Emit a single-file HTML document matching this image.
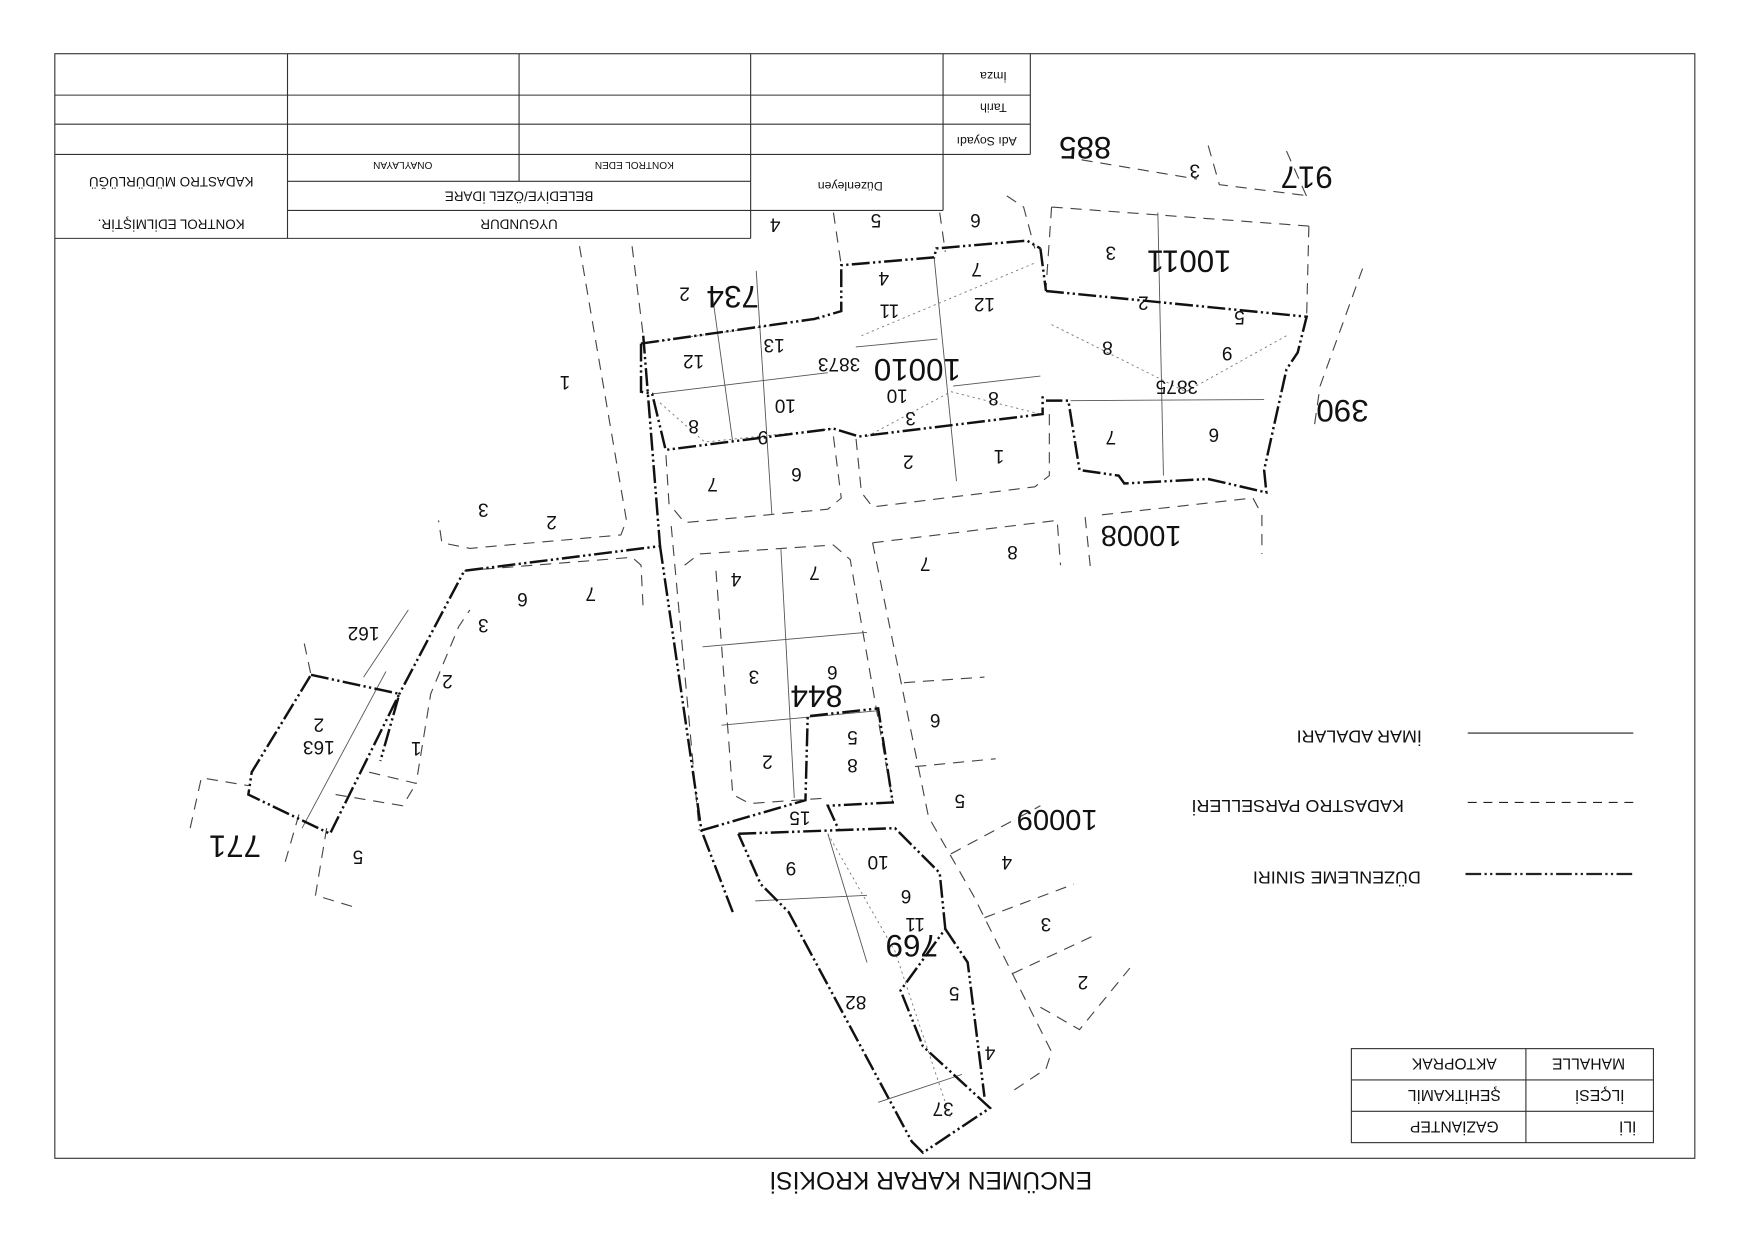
<!DOCTYPE html>
<html><head><meta charset="utf-8"><style>
html,body{margin:0;padding:0;background:#fff;}
svg{display:block;}
text{font-family:"Liberation Sans",sans-serif;fill:#111;dominant-baseline:central;}
</style></head><body>
<svg width="1753" height="1240" viewBox="0 0 1567 1108" preserveAspectRatio="none" xmlns="http://www.w3.org/2000/svg">
<rect width="1567" height="1108" fill="#fff"/>
<g fill="none" stroke="#333" stroke-width="1">
<rect x="49" y="48" width="1466" height="987"/>
<line x1="49" y1="85" x2="921" y2="85"/>
<line x1="49" y1="111" x2="921" y2="111"/>
<line x1="49" y1="138" x2="921" y2="138"/>
<line x1="921" y1="48" x2="921" y2="138"/>
<line x1="843" y1="48" x2="843" y2="188"/>
<line x1="671" y1="48" x2="671" y2="213"/>
<line x1="464" y1="48" x2="464" y2="162"/>
<line x1="257" y1="48" x2="257" y2="213"/>
<line x1="257" y1="162" x2="671" y2="162"/>
<line x1="257" y1="188" x2="843" y2="188"/>
<line x1="49" y1="213" x2="671" y2="213"/>
<rect x="1208" y="937" width="270" height="84"/>
<line x1="1208" y1="965" x2="1478" y2="965"/>
<line x1="1208" y1="993" x2="1478" y2="993"/>
<line x1="1364" y1="937" x2="1364" y2="1021"/>
</g>
<g stroke="#222">
<line x1="1312" y1="655" x2="1460" y2="655" stroke-width="1"/>
<line x1="1312" y1="717" x2="1460" y2="717" stroke-dasharray="8,6"/>
<line x1="1310" y1="781" x2="1460" y2="781" stroke-width="2" stroke-dasharray="14,3,2,3,2,3"/>
</g>
<g fill="none" stroke="#444" stroke-width="1" stroke-dasharray="10,7">
<path d="M518 220 L560 465 L555 478 L420 490 L395 485 L392 465"/>
<path d="M565 220 L575 300"/>
<path d="M745 190 L752 237"/>
<path d="M840 190 L845 225"/>
<path d="M900 175 L915 185 L925 222"/>
<path d="M940 185 L1170 202"/>
<path d="M1170 202 L1168 283"/>
<path d="M940 185 L935 258"/>
<path d="M938 370 L938 425 L925 435 L780 453 L770 440 L765 390"/>
<path d="M745 390 L752 445 L740 455 L612 467 L598 450 L595 402"/>
<path d="M600 470 L625 742"/>
<path d="M612 505 L625 495 L745 487 L760 500 L798 717"/>
<path d="M780 485 L945 465 L948 505"/>
<path d="M970 462 L975 510"/>
<path d="M985 460 L1120 445 L1128 460 L1128 495"/>
<path d="M780 485 L830 730 L870 800 L940 940 L935 955 L905 975"/>
<path d="M808 610 L880 605"/>
<path d="M818 685 L890 678"/>
<path d="M850 763 L930 720"/>
<path d="M880 820 L960 790"/>
<path d="M905 870 L980 835"/>
<path d="M930 900 L965 920 L1010 865"/>
<path d="M640 510 L655 710 L670 718 L740 713"/>
<path d="M415 510 L565 498 L573 505 L575 545"/>
<path d="M330 690 L372 700 L385 620 L410 560 L420 545"/>
<path d="M300 710 L360 720 L372 700"/>
<path d="M292 740 L282 800 L315 810"/>
<path d="M255 770 L268 725"/>
<path d="M170 740 L180 695 L222 702"/>
<path d="M272 575 L278 603"/>
<path d="M1080 130 L1090 165 L1170 175"/>
<path d="M950 140 L1070 160"/>
<path d="M1218 240 L1180 345 L1175 380"/>
<path d="M1150 135 L1170 180"/>
</g>
<g fill="none" stroke="#555" stroke-width="0.8">
<path d="M636 258 L655 395"/><path d="M676 242 L690 460"/>
<path d="M583 352 L740 333"/><path d="M835 230 L855 430"/>
<path d="M765 310 L838 303"/><path d="M852 345 L930 336"/>
<path d="M1035 190 L1040 425"/><path d="M957 358 L1130 357"/>
<path d="M698 490 L710 713"/><path d="M628 578 L775 565"/>
<path d="M645 648 L785 635"/>
<path d="M740 745 L775 860"/><path d="M675 805 L775 800"/>
<path d="M785 985 L860 960"/><path d="M325 605 L365 545"/><path d="M270 740 L345 600"/>
</g>
<g fill="none" stroke="#777" stroke-width="0.8" stroke-dasharray="2,3">
<path d="M573 307 L733 285"/><path d="M770 300 L925 235"/><path d="M940 290 L1060 350 L1150 300"/>
<path d="M590 360 L630 395 L745 383"/><path d="M775 390 L850 350 L930 370"/>
<path d="M740 745 L800 850 L850 1000"/>
</g>
<g fill="none" stroke="#111" stroke-width="2.2" stroke-dasharray="16,3,2,3,2,3">
<path d="M573 307 L728 285 L735 283 L752 278 L752 237 L835 230 L837 222 L918 215 L930 222"/>
<path d="M573 307 L573 350 L583 352 L595 402 L745 383 L768 390 L932 370 L932 352"/>
<path d="M935 260 L1168 283 L1160 315 L1150 330 L1130 420 L1132 440 L1080 428 L1005 432 L1000 425 L965 420 L955 358 L935 358"/>
<path d="M930 222 L935 260"/>
<path d="M575 300 L590 488 L415 510 L357 620 L340 680"/>
<path d="M278 603 L357 620 L295 745 L222 710 L225 690 Z"/>
<path d="M590 488 L627 742 L655 815"/>
<path d="M627 742 L720 715 L722 640 L785 633 L798 717 L740 720 L750 742"/>
<path d="M660 745 L800 740 L840 780 L845 830 L805 885 L825 935 L885 990 L825 1030 L815 1020 L705 815 L680 790 L660 745"/>
<path d="M845 830 L865 860 L880 980"/>
</g>
<g text-anchor="middle">
<text transform="rotate(180 832 1054)" x="832" y="1054" font-size="22">ENCÜMEN KARAR KROKİSİ</text>
<text transform="rotate(180 888 68)" x="888" y="68" font-size="11">İmza</text>
<text transform="rotate(180 888 96)" x="888" y="96" font-size="11">Tarih</text>
<text transform="rotate(180 882 126)" x="882" y="126" font-size="11">Adı Soyadı</text>
<text transform="rotate(180 760 166)" x="760" y="166" font-size="11">Düzenleyen</text>
<text transform="rotate(180 567 147)" x="567" y="147" font-size="9">KONTROL EDEN</text>
<text transform="rotate(180 360 147)" x="360" y="147" font-size="9">ONAYLAYAN</text>
<text transform="rotate(180 464 175)" x="464" y="175" font-size="12">BELEDİYE/ÖZEL İDARE</text>
<text transform="rotate(180 464 200)" x="464" y="200" font-size="12">UYGUNDUR</text>
<text transform="rotate(180 153 162)" x="153" y="162" font-size="12">KADASTRO MÜDÜRLÜĞÜ</text>
<text transform="rotate(180 153 200)" x="153" y="200" font-size="12">KONTROL EDİLMİŞTİR.</text>
<text transform="rotate(180 1215 658)" x="1215" y="658" font-size="16">İMAR ADALARI</text>
<text transform="rotate(180 1160 720)" x="1160" y="720" font-size="16">KADASTRO PARSELLERİ</text>
<text transform="rotate(180 1195 784)" x="1195" y="784" font-size="16">DÜZENLEME SINIRI</text>
<text transform="rotate(180 1420 950)" x="1420" y="950" font-size="14">MAHALLE</text>
<text transform="rotate(180 1300 950)" x="1300" y="950" font-size="14">AKTOPRAK</text>
<text transform="rotate(180 1430 978)" x="1430" y="978" font-size="14">İLÇESİ</text>
<text transform="rotate(180 1300 978)" x="1300" y="978" font-size="14">ŞEHİTKAMİL</text>
<text transform="rotate(180 1455 1006)" x="1455" y="1006" font-size="14">İLİ</text>
<text transform="rotate(180 1300 1006)" x="1300" y="1006" font-size="14">GAZİANTEP</text>
</g>
<g text-anchor="middle" font-size="17">
<text transform="rotate(180 970 132)" x="970" y="132" font-size="28">885</text>
<text transform="rotate(180 1168 158)" x="1168" y="158" font-size="28">917</text>
<text transform="rotate(180 1063 233)" x="1063" y="233" font-size="28">10011</text>
<text transform="rotate(180 820 330)" x="820" y="330" font-size="28">10010</text>
<text transform="rotate(180 655 265)" x="655" y="265" font-size="28">734</text>
<text transform="rotate(180 1200 367)" x="1200" y="367" font-size="28">390</text>
<text transform="rotate(180 1020 478)" x="1020" y="478" font-size="26">10008</text>
<text transform="rotate(180 730 622)" x="730" y="622" font-size="28">844</text>
<text transform="rotate(180 945 732)" x="945" y="732" font-size="26">10009</text>
<text transform="rotate(180 815 845)" x="815" y="845" font-size="28">769</text>
<text transform="rotate(180 210 756)" x="210" y="756" font-size="28">771</text>
<text transform="rotate(180 1052 345)" x="1052" y="345">3875</text>
<text transform="rotate(180 750 325)" x="750" y="325">3873</text>
<text transform="rotate(180 325 565)" x="325" y="565">162</text>
<text transform="rotate(180 285 667)" x="285" y="667">163</text>
<text x="693" y="200" transform="rotate(180 693 200)">4</text>
<text x="783" y="196" transform="rotate(180 783 196)">5</text>
<text x="872" y="196" transform="rotate(180 872 196)">6</text>
<text x="993" y="225" transform="rotate(180 993 225)">3</text>
<text x="1068" y="152" transform="rotate(180 1068 152)">3</text>
<text x="612" y="262" transform="rotate(180 612 262)">2</text>
<text x="790" y="248" transform="rotate(180 790 248)">4</text>
<text x="873" y="240" transform="rotate(180 873 240)">7</text>
<text x="795" y="277" transform="rotate(180 795 277)">11</text>
<text x="880" y="271" transform="rotate(180 880 271)">12</text>
<text x="1022" y="270" transform="rotate(180 1022 270)">2</text>
<text x="1108" y="283" transform="rotate(180 1108 283)">5</text>
<text x="990" y="310" transform="rotate(180 990 310)">8</text>
<text x="1097" y="315" transform="rotate(180 1097 315)">9</text>
<text x="692" y="308" transform="rotate(180 692 308)">13</text>
<text x="620" y="322" transform="rotate(180 620 322)">12</text>
<text x="505" y="341" transform="rotate(180 505 341)">1</text>
<text x="702" y="362" transform="rotate(180 702 362)">10</text>
<text x="802" y="353" transform="rotate(180 802 353)">10</text>
<text x="888" y="355" transform="rotate(180 888 355)">8</text>
<text x="814" y="373" transform="rotate(180 814 373)">3</text>
<text x="620" y="380" transform="rotate(180 620 380)">8</text>
<text x="682" y="390" transform="rotate(180 682 390)">9</text>
<text x="993" y="390" transform="rotate(180 993 390)">7</text>
<text x="1085" y="388" transform="rotate(180 1085 388)">6</text>
<text x="637" y="432" transform="rotate(180 637 432)">7</text>
<text x="712" y="423" transform="rotate(180 712 423)">6</text>
<text x="812" y="412" transform="rotate(180 812 412)">2</text>
<text x="893" y="407" transform="rotate(180 893 407)">1</text>
<text x="432" y="455" transform="rotate(180 432 455)">3</text>
<text x="493" y="466" transform="rotate(180 493 466)">2</text>
<text x="827" y="503" transform="rotate(180 827 503)">7</text>
<text x="905" y="493" transform="rotate(180 905 493)">8</text>
<text x="658" y="517" transform="rotate(180 658 517)">4</text>
<text x="728" y="511" transform="rotate(180 728 511)">7</text>
<text x="467" y="535" transform="rotate(180 467 535)">6</text>
<text x="528" y="530" transform="rotate(180 528 530)">7</text>
<text x="432" y="558" transform="rotate(180 432 558)">3</text>
<text x="674" y="604" transform="rotate(180 674 604)">3</text>
<text x="744" y="600" transform="rotate(180 744 600)">6</text>
<text x="400" y="608" transform="rotate(180 400 608)">2</text>
<text x="836" y="643" transform="rotate(180 836 643)">6</text>
<text x="762" y="658" transform="rotate(180 762 658)">5</text>
<text x="285" y="647" transform="rotate(180 285 647)">2</text>
<text x="372" y="668" transform="rotate(180 372 668)">1</text>
<text x="686" y="680" transform="rotate(180 686 680)">2</text>
<text x="762" y="683" transform="rotate(180 762 683)">8</text>
<text x="858" y="715" transform="rotate(180 858 715)">5</text>
<text x="715" y="730" transform="rotate(180 715 730)">15</text>
<text x="320" y="765" transform="rotate(180 320 765)">5</text>
<text x="707" y="775" transform="rotate(180 707 775)">9</text>
<text x="785" y="770" transform="rotate(180 785 770)">10</text>
<text x="900" y="770" transform="rotate(180 900 770)">4</text>
<text x="810" y="800" transform="rotate(180 810 800)">6</text>
<text x="818" y="825" transform="rotate(180 818 825)">11</text>
<text x="935" y="825" transform="rotate(180 935 825)">3</text>
<text x="968" y="877" transform="rotate(180 968 877)">2</text>
<text x="853" y="887" transform="rotate(180 853 887)">5</text>
<text x="765" y="895" transform="rotate(180 765 895)">82</text>
<text x="885" y="940" transform="rotate(180 885 940)">4</text>
<text x="843" y="990" transform="rotate(180 843 990)">37</text>
</g>
</svg>
</body></html>
